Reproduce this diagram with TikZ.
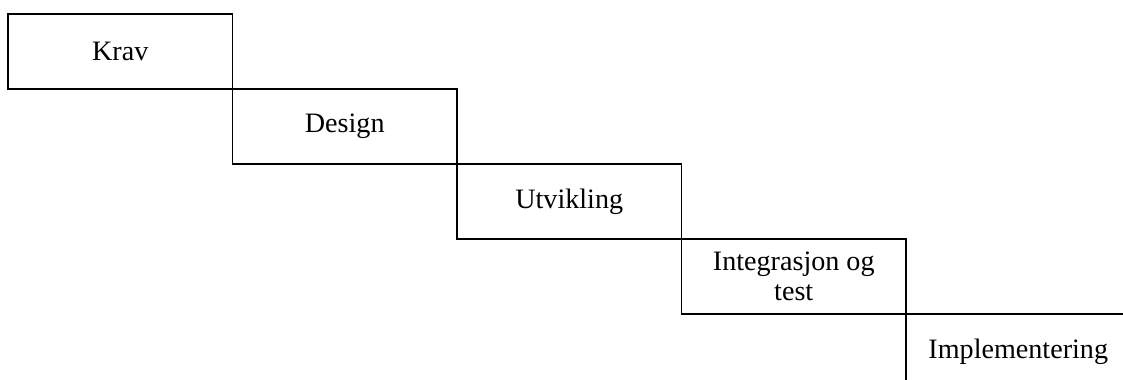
\documentclass[tikz,border=0pt]{standalone}
\usepackage{fontspec}
\setmainfont{Liberation Serif}
\begin{document}
\begin{tikzpicture}[phase/.style={draw, line width=0.6pt, minimum width=44.9mm, minimum height=15mm, align=center, font=\fontsize{16}{17}\selectfont, inner sep=0pt}]
		\useasboundingbox (0,0) rectangle (22.46,-7.6);
		\clip (0,0) rectangle (22.46,-7.6);

		\node[phase] at (2.405,-1.03) (krav) {Krav};
		\node[phase] at (6.895,-2.53) (design) {Design};
		\node[phase] at (11.385,-4.03) (utv) {Utvikling};
		\node[phase] at (15.875,-5.53) (integ) {Integrasjon og\\test};
		\node[phase] at (20.365,-7.03) (impl) {Implementering};
	\end{tikzpicture}
\end{document}
